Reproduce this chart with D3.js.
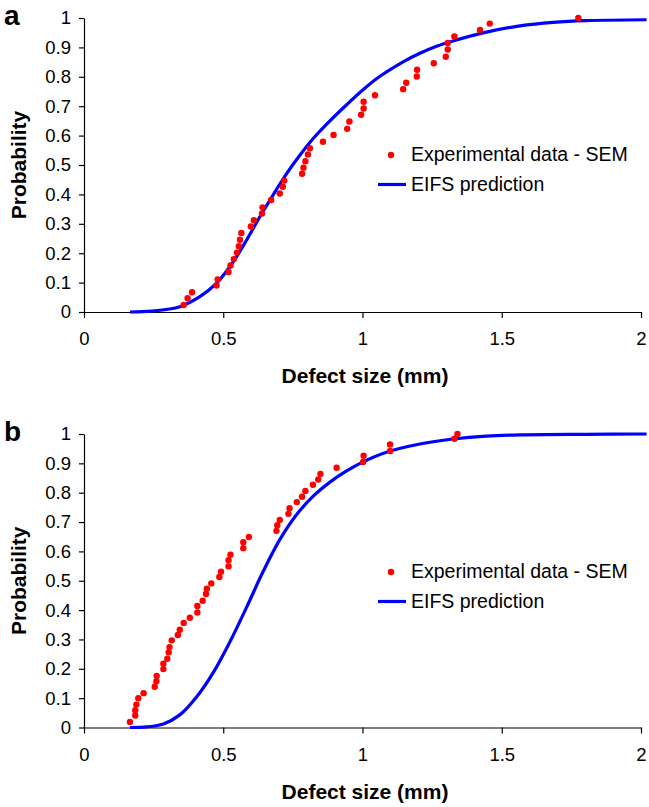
<!DOCTYPE html>
<html lang="en">
<head>
    <meta charset="UTF-8">
    <title>Defect size distribution</title>
    <script src="https://d3js.org/d3.v7.min.js"></script>
    <style>
        body { margin: 0; background: #fff; }
        text { font-family: "Liberation Sans", Arial, sans-serif; fill: #000; }
    </style>
</head>
<body>
<svg id="main" width="649" height="807"></svg>
<script>
    // panel a - experimental points
    const aExpX = [0.358,0.372,0.388,0.476,0.480,0.519,0.526,0.538,0.549,0.556,0.560,0.565,0.599,0.610,0.639,0.641,0.672,0.703,0.714,0.719,0.783,0.788,0.795,0.804,0.811,0.858,0.896,0.945,0.953,0.995,1.004,1.004,1.045,1.146,1.157,1.195,1.196,1.256,1.299,1.306,1.306,1.330,1.422,1.457,1.775];
    const aExpY = [0.024,0.047,0.067,0.090,0.111,0.136,0.158,0.180,0.202,0.224,0.246,0.269,0.291,0.312,0.335,0.356,0.381,0.403,0.426,0.447,0.470,0.491,0.513,0.536,0.557,0.579,0.602,0.623,0.648,0.671,0.692,0.715,0.737,0.758,0.780,0.801,0.824,0.846,0.868,0.893,0.915,0.937,0.959,0.981,1.0];
    // panel a - EIFS prediction
    const aFitX = [0.165,0.243,0.344,0.416,0.476,0.536,0.584,0.632,0.679,0.727,0.775,0.823,0.883,0.943,1.002,1.060,1.146,1.206,1.266,1.325,1.445,1.565,1.684,1.804,2.02];
    const aFitY = [0,0.003,0.018,0.052,0.098,0.171,0.245,0.325,0.398,0.470,0.533,0.590,0.650,0.705,0.756,0.800,0.851,0.880,0.904,0.922,0.952,0.973,0.985,0.991,0.994];

    // panel b - experimental points
    const bExpX = [0.165,0.184,0.184,0.188,0.195,0.214,0.254,0.260,0.261,0.285,0.285,0.299,0.304,0.307,0.315,0.337,0.344,0.358,0.380,0.407,0.407,0.426,0.438,0.441,0.457,0.486,0.492,0.519,0.519,0.526,0.572,0.572,0.592,0.691,0.694,0.703,0.734,0.738,0.764,0.783,0.795,0.822,0.841,0.849,0.907,1.002,1.004,1.099,1.099,1.330,1.341];
    const bExpY = [0.019,0.041,0.059,0.078,0.100,0.117,0.139,0.158,0.176,0.199,0.217,0.234,0.256,0.274,0.297,0.315,0.333,0.356,0.374,0.392,0.414,0.432,0.455,0.473,0.491,0.513,0.531,0.549,0.570,0.589,0.611,0.631,0.649,0.670,0.689,0.707,0.728,0.747,0.768,0.786,0.806,0.827,0.845,0.864,0.885,0.905,0.926,0.942,0.964,0.984,1.0];
    // panel b - EIFS prediction
    const bFitX = [0.165,0.225,0.285,0.344,0.404,0.464,0.524,0.584,0.644,0.703,0.763,0.823,0.883,0.943,1.002,1.086,1.206,1.325,1.445,1.565,1.804,2.02];
    const bFitY = [0,0.002,0.012,0.043,0.104,0.187,0.292,0.410,0.533,0.640,0.725,0.788,0.836,0.874,0.905,0.938,0.966,0.983,0.993,0.997,0.999,1.0];

    const xTicks = [0, 0.5, 1, 1.5, 2];
    const yTicks = [0, 0.1, 0.2, 0.3, 0.4, 0.5, 0.6, 0.7, 0.8, 0.9, 1];
    const legendNames = ['Experimental data - SEM', 'EIFS prediction'];

    let svg = d3.select('svg#main');
    let x = d3.scaleLinear().domain([0, 2]).range([84, 641]);

    function drawPanel(label, top, bottom, expX, expY, fitX, fitY, legY) {
        let y = d3.scaleLinear().domain([0, 1]).range([bottom, top]);
        let g = svg.append('g');

        let xAxis = g.append('g')
            .attr('transform', 'translate(0,' + bottom + ')')
            .call(d3.axisBottom(x).tickValues(xTicks).tickSize(6).tickSizeOuter(0).tickPadding(14).tickFormat(d3.format('')));
        let yAxis = g.append('g')
            .attr('transform', 'translate(84,0)')
            .call(d3.axisLeft(y).tickValues(yTicks).tickSize(5).tickSizeOuter(0).tickPadding(8).tickFormat(d3.format('')));
        [xAxis, yAxis].forEach(function(ax) {
            ax.select('.domain').attr('stroke', '#000').attr('stroke-width', 1.2);
            ax.selectAll('.tick line').attr('stroke', '#000').attr('stroke-width', 1.2);
            ax.selectAll('.tick text').style('font-size', '18.5px').attr('fill', '#000')
                .style('font-family', '"Liberation Sans", Arial, sans-serif');
        });

        let line = d3.line()
            .x(function(d) { return x(d[0]); })
            .y(function(d) { return y(d[1]); })
            .curve(d3.curveCatmullRom.alpha(0.5));
        g.append('path')
            .datum(fitX.map(function(v, i) { return [v, fitY[i]]; }))
            .attr('d', line)
            .attr('fill', 'none')
            .attr('stroke', '#0000ff')
            .attr('stroke-width', 3.2);

        g.selectAll('circle.exp')
            .data(expX.map(function(v, i) { return [v, expY[i]]; }))
            .enter()
            .append('circle')
            .attr('class', 'exp')
            .attr('cx', function(d) { return x(d[0]); })
            .attr('cy', function(d) { return y(d[1]); })
            .attr('r', 3.2)
            .attr('fill', '#ff0000');

        // axis titles
        g.append('text')
            .attr('x', 365).attr('y', bottom + 71)
            .attr('text-anchor', 'middle')
            .style('font-size', '21px').style('font-weight', 'bold')
            .text('Defect size (mm)');
        g.append('text')
            .attr('transform', 'translate(26,' + ((top + bottom) / 2) + ') rotate(-90)')
            .attr('text-anchor', 'middle')
            .style('font-size', '21px').style('font-weight', 'bold')
            .text('Probability');
        g.append('text')
            .attr('x', 4).attr('y', top + 7)
            .style('font-size', '28px').style('font-weight', 'bold')
            .text(label);

        // legend
        g.append('circle').attr('cx', 391).attr('cy', legY - 6).attr('r', 3.2).attr('fill', '#ff0000');
        g.append('line').attr('x1', 378).attr('x2', 406).attr('y1', legY + 23.5).attr('y2', legY + 23.5)
            .attr('stroke', '#0000ff').attr('stroke-width', 3.2);
        legendNames.forEach(function(n, i) {
            g.append('text')
                .attr('x', 411).attr('y', legY + i * 29.5)
                .style('font-size', '19.5px')
                .text(n);
        });
    }

    drawPanel('a', 18, 312, aExpX, aExpY, aFitX, aFitY, 161);
    drawPanel('b', 434, 727.5, bExpX, bExpY, bFitX, bFitY, 578);
</script>
</body>
</html>
